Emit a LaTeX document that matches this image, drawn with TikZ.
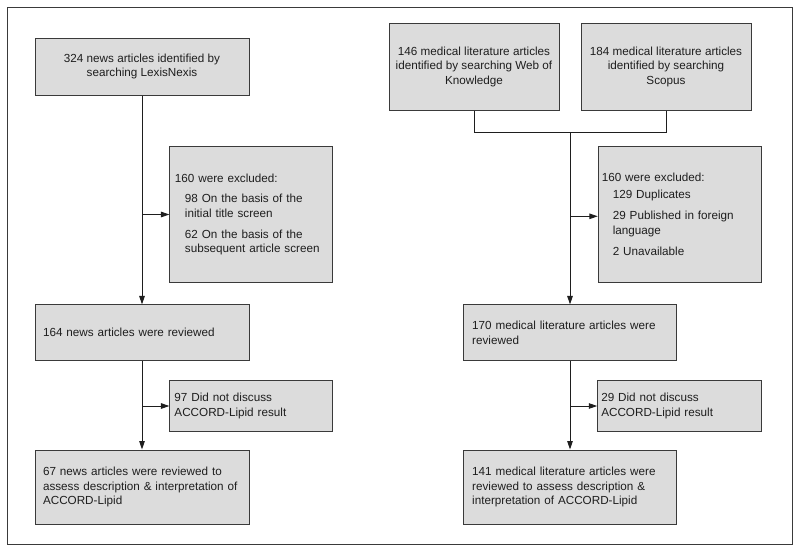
\documentclass[tikz,border=0pt]{standalone}
\usepackage{fontspec}
\setmainfont{Liberation Sans}
\usetikzlibrary{arrows.meta,positioning}
\definecolor{boxfill}{HTML}{DCDCDC}
\definecolor{edge}{HTML}{3A3A3A}
\definecolor{ink}{HTML}{1E1E1E}
\begin{document}
\begin{tikzpicture}[x=1pt,y=-1pt,
  box/.style={draw=edge, line width=1pt, fill=boxfill, text=ink,
    font=\fontsize{11.7}{14.3}\selectfont, inner ysep=0pt},
  cbox/.style={box, align=center},
  lbox/.style 2 args={box, align=left, minimum width=#1pt, inner xsep=#2pt, text width=#1pt-2*#2pt},
  link/.style={draw=ink, line width=0.9pt},
  arr/.style={link, -{Triangle[length=8.5pt,width=5.5pt]}}]
\useasboundingbox (0,0) rectangle (800,552);
\draw[draw=edge, line width=1pt] (7,7) rectangle (792.5,544);

% left column
\node[cbox, minimum width=214pt, minimum height=57pt] (A) at (142,66.7)
  {324 news articles identified by\\searching LexisNexis};
\node[lbox={162.5}{5}, minimum height=135.6pt] (E1) at (251.2,214.5)
  {160 were excluded:\\[6.5pt]
   \hspace*{10pt}98 On the basis of the\\
   \hspace*{10pt}initial title screen\\[7pt]
   \hspace*{10pt}62 On the basis of the\\
   \hspace*{10pt}subsequent article screen};
\node[lbox={214}{8}, minimum height=55.7pt] (B) at (142,332.8)
  {164 news articles were reviewed};
\node[lbox={162.5}{4.5}, minimum height=50.6pt] (E97) at (251.2,406)
  {97 Did not discuss\\ACCORD-Lipid result};
\node[lbox={214}{8}, minimum height=74pt] (F) at (142,487)
  {67 news articles were reviewed to\\assess description \& interpretation of\\ACCORD-Lipid};

% right column
\node[cbox, minimum width=170pt, minimum height=87pt] (W) at (474,66.8)
  {146 medical literature articles\\identified by searching Web of\\Knowledge};
\node[cbox, minimum width=170pt, minimum height=87pt] (S) at (666,66.8)
  {184 medical literature articles\\identified by searching\\Scopus};
\node[lbox={163.4}{3.5}, minimum height=135.6pt] (E2) at (680,214.5)
  {160 were excluded:\\[2.5pt]
   \hspace*{11pt}129 Duplicates\\[7pt]
   \hspace*{11pt}29 Published in foreign\\
   \hspace*{11pt}language\\[7pt]
   \hspace*{11pt}2 Unavailable\\[1pt]};
\node[lbox={213.6}{9}, minimum height=55.7pt] (B2) at (570,332.8)
  {170 medical literature articles were\\reviewed};
\node[lbox={163.3}{3.5}, minimum height=50.6pt] (E29) at (679.4,406)
  {29 Did not discuss\\ACCORD-Lipid result};
\node[lbox={213.6}{9}, minimum height=74pt] (F2) at (570,487)
  {141 medical literature articles were\\reviewed to assess description \&\\interpretation of ACCORD-Lipid};

\coordinate (m) at (570,132.7);

% connectors left
\draw[arr] (A.south) -- (B.north);
\draw[arr] (E1.west -| A.south) -- (E1.west);
\draw[arr] (B.south) -- (F.north);
\draw[arr] (E97.west -| B.south) -- (E97.west);

% connectors right
\draw[link] (W.south) |- (m);
\draw[link] (S.south) |- (m);
\draw[arr] (m) -- (B2.north);
\draw[arr] ([yshift=-1.8pt]E2.west -| m) -- ([yshift=-1.8pt]E2.west);
\draw[arr] (B2.south) -- (F2.north);
\draw[arr] (E29.west -| B2.south) -- (E29.west);
\end{tikzpicture}
\end{document}
